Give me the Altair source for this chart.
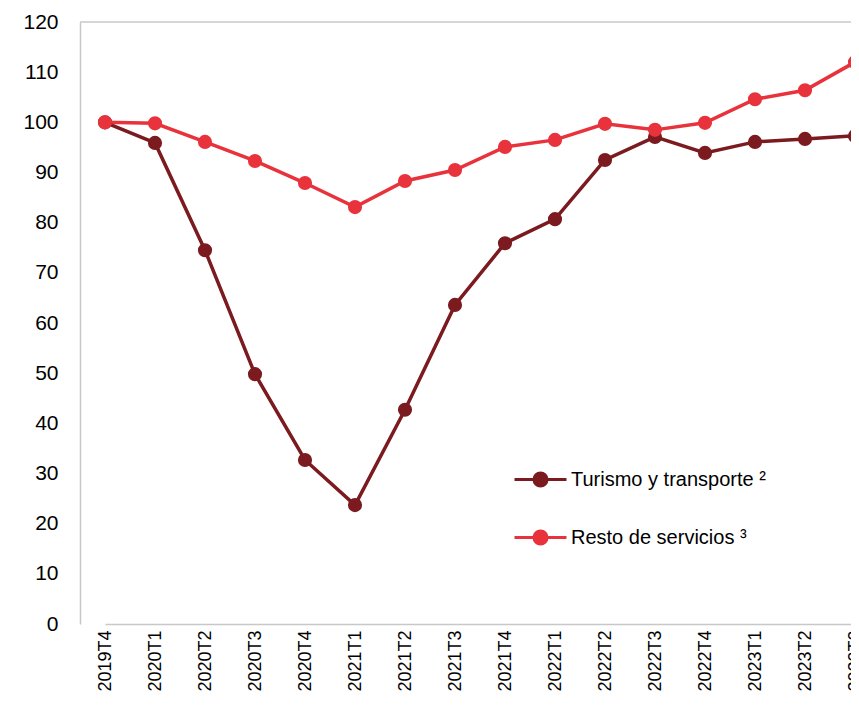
import altair as alt
import pandas as pd

quarters = ["2019T4", "2020T1", "2020T2", "2020T3", "2020T4", "2021T1", "2021T2",
            "2021T3", "2021T4", "2022T1", "2022T2", "2022T3", "2022T4", "2023T1",
            "2023T2", "2023T3"]
turismo = [100.0, 95.9, 74.5, 49.8, 32.7, 23.7, 42.7, 63.6, 75.9, 80.7, 92.5, 97.1,
           93.9, 96.1, 96.7, 97.3]
resto = [100.0, 99.8, 96.1, 92.3, 87.9, 83.1, 88.3, 90.5, 95.1, 96.5, 99.7, 98.5,
         99.9, 104.6, 106.4, 112.0]
series_names = ["Turismo y transporte \u00b2", "Resto de servicios \u00b3"]
series_colors = ["#7b1a1f", "#e8323c"]
y_ticks = list(range(0, 121, 10))

rows = []
for name, vals in zip(series_names, [turismo, resto]):
    for q, v in zip(quarters, vals):
        rows.append({"quarter": q, "value": v, "series": name})
df = pd.DataFrame(rows)

FONT = "Liberation Sans"
W, H = 771, 602

legend_path = ("M-1,0H1M-0.25,0A0.25,0.25,0,1,1,0.25,0"
               "A0.25,0.25,0,1,1,-0.25,0Z")

def make_legend():
    return alt.Legend(
        title=None, orient="none", legendX=433, legendY=430,
        symbolType=legend_path, symbolSize=2704, symbolStrokeWidth=3,
        labelFont=FONT, labelFontSize=20, labelColor="#000000", labelLimit=0,
        labelOffset=3, rowPadding=18, symbolOpacity=1,
    )

x_enc = alt.X(
    "quarter:O", sort=quarters,
    scale=alt.Scale(type="point", range=[25, 775], padding=0),
    axis=alt.Axis(title=None, labelAngle=270, labelAlign="right", labelBaseline="middle",
                  labelFont=FONT, labelFontSize=18, labelColor="#000000", labelPadding=6,
                  ticks=False, domainColor="#c8c8c8", domainWidth=1.5, grid=False),
)
y_enc = alt.Y(
    "value:Q",
    scale=alt.Scale(domain=[0, 120], nice=False, zero=True),
    axis=alt.Axis(title=None, values=y_ticks, labelFont=FONT, labelFontSize=21,
                  labelColor="#000000", labelPadding=22, ticks=False,
                  domainColor="#c8c8c8", domainWidth=1.5, grid=False),
)
color_scale = alt.Scale(domain=series_names, range=series_colors)

base = alt.Chart(df)
lines = base.mark_line(strokeWidth=3.5).encode(
    x=x_enc, y=y_enc,
    stroke=alt.Stroke("series:N", scale=color_scale, legend=make_legend()),
    order=alt.Order("series:N"),
)
points = base.mark_point(filled=True, size=200, opacity=1).encode(
    x=x_enc, y=y_enc,
    fill=alt.Fill("series:N", scale=color_scale, legend=make_legend()),
)
top_border = alt.Chart(pd.DataFrame({"v": [120]})).mark_rule(
    color="#c8c8c8", strokeWidth=1.5
).encode(y=alt.Y("v:Q"), x=alt.value(0), x2=alt.value(W + 20))

chart = alt.layer(top_border, lines, points).properties(
    width=W, height=H,
    autosize=alt.AutoSizeParams(type="none"),
    padding={"left": 72, "top": 14, "right": 0, "bottom": 87},
    background="white",
).configure_view(stroke=None)

chart.save("out.html", embed_options={"renderer": "svg", "actions": False})
